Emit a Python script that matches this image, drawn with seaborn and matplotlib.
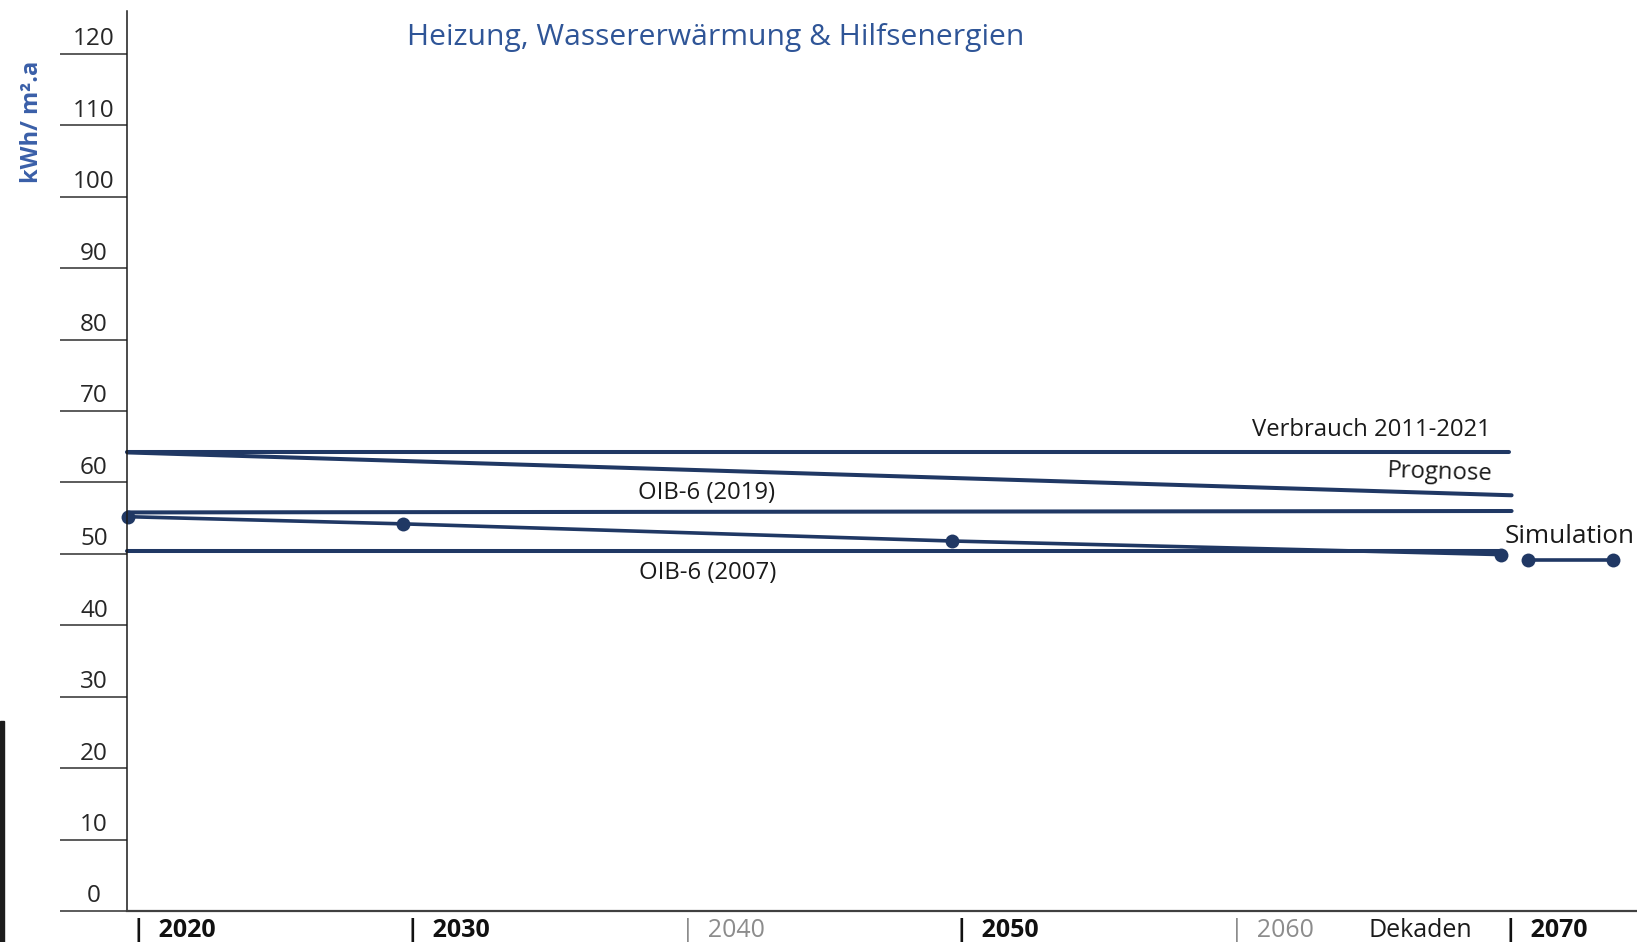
import matplotlib
matplotlib.use("Agg")
import matplotlib.pyplot as plt
from matplotlib.patches import Rectangle
import seaborn as sns

# Data (kWh/m².a over the decades)
sim_years = [2020, 2030, 2050, 2070]
simulation = [55.2, 54.2, 51.8, 49.9]

verbrauch_x = [2019.96, 2070.3]
verbrauch = [64.2, 64.2]
prognose_x = [2019.96, 2070.4]
prognose = [64.2, 58.2]
oib2019_x = [2019.96, 2070.4]
oib2019 = [55.8, 56.0]
oib2007_x = [2019.96, 2070.0]
oib2007 = [50.4, 50.4]

# small "Simulation" key segment right of the chart
sim_key_x = [2071.0, 2074.1]
sim_key_y = [49.2, 49.2]

y_ticks = [0, 10, 20, 30, 40, 50, 60, 70, 80, 90, 100, 110, 120]
decades = [2020, 2030, 2040, 2050, 2060, 2070]
decade_bold = [True, True, False, True, False, True]

navy = "#203864"
title_blue = "#2f5597"

sns.set_style("white")
plt.rcParams['font.family'] = ['Open Sans', 'DejaVu Sans']

fig = plt.figure(figsize=(16.37, 9.42), dpi=100)
ax = fig.add_axes([127.4 / 1637, 31 / 942, 1 - 127.4 / 1637, 900 / 942])
ax.set_xlim(2019.96, 2074.97)
ax.set_ylim(0, 126)

# reference lines
for xs, ys in [(verbrauch_x, verbrauch), (prognose_x, prognose),
               (oib2019_x, oib2019), (oib2007_x, oib2007)]:
    sns.lineplot(x=xs, y=ys, color=navy, linewidth=2.9, ax=ax, clip_on=False)

# simulation with markers
sns.lineplot(x=sim_years, y=simulation, color=navy, linewidth=2.6, marker='o',
             markersize=10, markeredgewidth=0, ax=ax, clip_on=False)
sns.lineplot(x=sim_key_x, y=sim_key_y, color=navy, linewidth=2.6, marker='o',
             markersize=10, markeredgewidth=0, ax=ax, clip_on=False)

# axes styling
for s in ['top', 'right']:
    ax.spines[s].set_visible(False)
ax.spines['left'].set_color('#1a1a1a')
ax.spines['left'].set_linewidth(1.1)
ax.spines['bottom'].set_color('#404040')
ax.spines['bottom'].set_linewidth(1.6)
ax.set_xticks([])
ax.set_yticks(y_ticks)
ax.tick_params(axis='y', length=48.5, width=1.2, color='#404040',
               direction='out', labelleft=False, left=True)
ax.set_xlabel('')
ax.set_ylabel('')

# y tick labels sit above each tick line
for v in y_ticks:
    ax.text(2018.74, v + 2.05, str(v), ha='center', va='center',
            fontsize=17.5, color='#262626', clip_on=False)

# decade labels under the axis
for yr, bold in zip(decades, decade_bold):
    ax.text(yr + 0.13, -2.7, "|  " + str(yr), ha='left', va='center',
            fontsize=18, fontweight='bold' if bold else 'normal',
            color='#111111' if bold else '#8c8c8c', clip_on=False)
ax.text(2067.07, -2.7, "Dekaden", ha='center', va='center', fontsize=18,
        color='#1a1a1a', clip_on=False)

# series labels
ax.text(2069.65, 67.3, "Verbrauch 2011-2021", ha='right', va='center',
        fontsize=17.2, color='#1a1a1a')
ax.text(2069.7, 61.2, "Prognose", ha='right', va='center', fontsize=17.2,
        color='#1a1a1a', rotation=-1.8, rotation_mode='anchor')
ax.text(2041.07, 58.5, "OIB-6 (2019)", ha='center', va='center', fontsize=17.2,
        color='#1a1a1a')
ax.text(2041.12, 47.3, "OIB-6 (2007)", ha='center', va='center', fontsize=17.2,
        color='#1a1a1a')
ax.text(2072.5, 52.4, "Simulation", ha='center', va='center', fontsize=18.8,
        color='#1a1a1a', clip_on=False)

# title and unit
fig.text(715.5 / 1637, 1 - 37.5 / 942, "Heizung, Wassererwärmung & Hilfsenergien",
         ha='center', va='center', fontsize=21.6, color=title_blue)
fig.text(32 / 1637, 1 - 121.5 / 942, "kWh/ m².a", rotation=90, ha='center',
         va='center', fontsize=17, fontweight='bold', color='#3a5fa8')

# dark photo edge visible at the lower left of the source
fig.patches.append(Rectangle((0, 0), 4 / 1637, (942 - 721) / 942,
                             transform=fig.transFigure, color='#1c1c1c'))

fig.savefig("out.png", dpi=100)
